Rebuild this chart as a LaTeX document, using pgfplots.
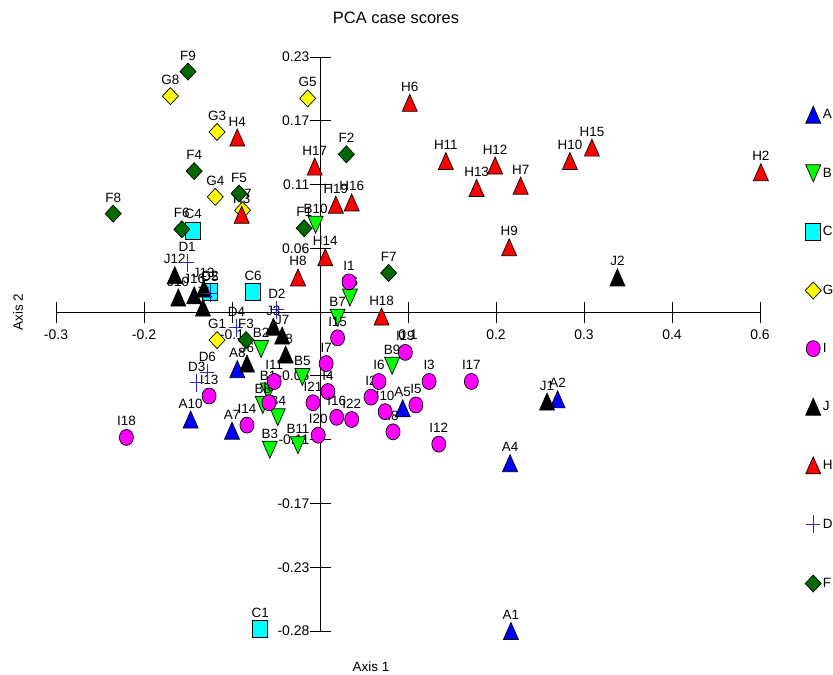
\documentclass[border=0pt]{standalone}
\usepackage{fontspec}
\setmainfont{Liberation Sans}
\usepackage{pgfplots}
\pgfplotsset{compat=1.18}

\definecolor{cA}{RGB}{0,0,255}
\definecolor{cB}{RGB}{0,255,0}
\definecolor{cC}{RGB}{0,255,255}
\definecolor{cG}{RGB}{255,255,0}
\definecolor{cI}{RGB}{255,0,255}
\definecolor{cJ}{RGB}{0,0,0}
\definecolor{cH}{RGB}{255,0,0}
\definecolor{cD}{RGB}{40,40,190}
\definecolor{cF}{RGB}{0,105,0}

% marks as drawn by the original program
\pgfdeclareplotmark{tup}{%
  \pgfpathmoveto{\pgfqpoint{0bp}{8.5bp}}%
  \pgfpathlineto{\pgfqpoint{7.5bp}{-8.5bp}}%
  \pgfpathlineto{\pgfqpoint{-7.5bp}{-8.5bp}}%
  \pgfpathclose\pgfusepathqfillstroke}
\pgfdeclareplotmark{tdown}{%
  \pgfpathmoveto{\pgfqpoint{0bp}{-8.5bp}}%
  \pgfpathlineto{\pgfqpoint{7.5bp}{8.5bp}}%
  \pgfpathlineto{\pgfqpoint{-7.5bp}{8.5bp}}%
  \pgfpathclose\pgfusepathqfillstroke}
\pgfdeclareplotmark{sq}{%
  \pgfpathrectangle{\pgfqpoint{-7.5bp}{-8.5bp}}{\pgfqpoint{15bp}{17bp}}%
  \pgfusepathqfillstroke}
\pgfdeclareplotmark{dia}{%
  \pgfpathmoveto{\pgfqpoint{0bp}{8.5bp}}%
  \pgfpathlineto{\pgfqpoint{8bp}{0bp}}%
  \pgfpathlineto{\pgfqpoint{0bp}{-8.5bp}}%
  \pgfpathlineto{\pgfqpoint{-8bp}{0bp}}%
  \pgfpathclose\pgfusepathqfillstroke}
\pgfdeclareplotmark{ell}{%
  \pgfpathellipse{\pgfpointorigin}{\pgfqpoint{7bp}{0bp}}{\pgfqpoint{0bp}{8bp}}%
  \pgfusepathqfillstroke}
\pgfdeclareplotmark{crs}{%
  \pgfpathmoveto{\pgfqpoint{-7bp}{0bp}}\pgfpathlineto{\pgfqpoint{7bp}{0bp}}%
  \pgfpathmoveto{\pgfqpoint{0bp}{-9bp}}\pgfpathlineto{\pgfqpoint{0bp}{9bp}}%
  \pgfusepathqstroke}

\pgfplotsset{
  lab/.style={only marks, nodes near coords, point meta=explicit symbolic,
    every node near coord/.append style={anchor=base, yshift=11.5bp,
      inner sep=0pt, text=black, font=\fontsize{13.5}{14}\selectfont}},
  filled/.style={mark options={fill=#1, draw=black, line width=0.7bp}},
}

\begin{document}
\begin{tikzpicture}
\begin{axis}[
    at={(56bp,44bp)}, anchor=south west,
    scale only axis, width=704bp, height=574bp,
    xmin=-0.3, xmax=0.5, ymin=-0.285, ymax=0.228,
    axis lines=middle,
    axis line style={-, black, line width=0.8bp},
    clip=false,
    xtick={-0.3,-0.2,-0.1,0.1,0.2,0.3,0.4,0.5},
    xticklabels={-0.3,-0.2,-0.1,0.1,0.2,0.3,0.4,0.6},
    ytick={-0.285,-0.228,-0.171,-0.114,-0.057,0.057,0.114,0.171,0.228},
    yticklabels={-0.28,-0.23,-0.17,-0.11,-0.06,0.06,0.11,0.17,0.23},
    tick align=center, major tick length=21bp,
    tick style={black, line width=0.8bp},
    tick label style={font=\fontsize{14}{14}\selectfont},
    xticklabel style={anchor=north, inner sep=0pt, yshift=-7bp},
    yticklabel style={anchor=east, inner sep=0pt},
    legend style={at={(axis description cs:1.064,0.9146)}, anchor=north west,
      draw=none, fill=none, inner sep=0pt, row sep=41.6bp,
      font=\fontsize{13.5}{14}\selectfont, nodes={inner sep=1.5bp}},
    legend cell align=left,
    legend image code/.code={\draw[mark repeat=2,mark phase=2,#1]
      plot coordinates {(-7bp,0bp) (0bp,0bp) (7bp,0bp)};},
]

% A
\addplot[lab, mark=tup, filled=cA] table[meta=label] {
x y label
0.217 -0.285 A1
0.270 -0.078 A2
0.216 -0.135 A4
0.094 -0.086 A5
-0.100 -0.106 A7
-0.094 -0.051 A8
-0.147 -0.096 A10
};
\addlegendentry{A}

% B
\addplot[lab, mark=tdown, filled=cB] table[meta=label] {
x y label
-0.059 -0.071 B1
-0.067 -0.033 B2
-0.057 -0.123 B3
-0.048 -0.094 B4
-0.020 -0.058 B5
0.034 0.013 B6
0.020 -0.005 B7
-0.065 -0.083 B8
0.082 -0.048 B9
-0.005 0.078 B10
-0.025 -0.119 B11
};
\addlegendentry{B}

% C
\addplot[lab, mark=sq, filled=cC] table[meta=label] {
x y label
-0.068 -0.283 C1
-0.125 0.018 C2
-0.144 0.073 C4
-0.076 0.018 C6
};
\addlegendentry{C}

% G
\addplot[lab, mark=dia, filled=cG] table[meta=label] {
x y label
-0.117 -0.025 G1
-0.117 0.161 G3
-0.119 0.103 G4
-0.014 0.191 G5
-0.088 0.091 G7
-0.170 0.193 G8
};
\addlegendentry{G}

% I
\addplot[lab, mark=ell, filled=cI] table[meta=label] {
x y label
0.033 0.027 I1
0.058 -0.076 I2
0.124 -0.062 I3
0.009 -0.071 I4
0.109 -0.083 I5
0.067 -0.062 I6
0.007 -0.046 I7
0.083 -0.107 I8
-0.058 -0.081 I9
0.074 -0.089 I10
-0.052 -0.062 I11
0.135 -0.118 I12
-0.126 -0.075 I13
-0.083 -0.101 I14
0.020 -0.023 I15
0.019 -0.094 I16
0.172 -0.062 I17
-0.220 -0.112 I18
0.097 -0.036 I19
-0.002 -0.110 I20
-0.008 -0.081 I21
0.036 -0.096 I22
};
\addlegendentry{I}

% J
\addplot[lab, mark=tup, filled=cJ] table[meta=label] {
x y label
0.258 -0.080 J1
0.338 0.031 J2
-0.053 -0.013 J3
-0.133 0.004 J4
-0.083 -0.046 J6
-0.043 -0.021 J7
-0.039 -0.038 J8
-0.161 0.013 J10
-0.165 0.033 J12
-0.132 0.021 J13
-0.143 0.015 J16
};
\addlegendentry{J}

% H
\addplot[lab, mark=tup, filled=cH] table[meta=label] {
x y label
0.501 0.125 H2
-0.089 0.087 H3
-0.094 0.156 H4
0.102 0.187 H6
0.228 0.113 H7
-0.025 0.031 H8
0.215 0.058 H9
0.284 0.135 H10
0.143 0.135 H11
0.199 0.131 H12
0.178 0.111 H13
0.006 0.049 H14
0.309 0.147 H15
0.036 0.098 H16
-0.006 0.130 H17
0.070 -0.004 H18
0.018 0.096 H19
};
\addlegendentry{H}

% D
\addplot[lab, mark=crs, mark options={draw=cD, line width=0.8bp}] table[meta=label] {
x y label
-0.151 0.044 D1
-0.049 0.002 D2
-0.140 -0.063 D3
-0.095 -0.014 D4
-0.125 0.017 D5
-0.128 -0.054 D6
};
\addlegendentry{D}

% F
\addplot[lab, mark=dia, filled=cF] table[meta=label] {
x y label
-0.018 0.075 F1
0.030 0.141 F2
-0.084 -0.025 F3
-0.143 0.126 F4
-0.092 0.106 F5
-0.157 0.074 F6
0.078 0.035 F7
-0.235 0.088 F8
-0.150 0.215 F9
};
\addlegendentry{F}

\end{axis}
\node[font=\fontsize{16.5}{17}\selectfont] at (396bp,657bp) {PCA case scores};
\node[font=\fontsize{13.5}{14}\selectfont] at (371bp,8bp) {Axis 1};
\node[font=\fontsize{13.5}{14}\selectfont, rotate=90] at (18bp,363bp) {Axis 2};
\pgfresetboundingbox
\useasboundingbox (0bp,0bp) rectangle (833bp,675bp);
\end{tikzpicture}
\end{document}
